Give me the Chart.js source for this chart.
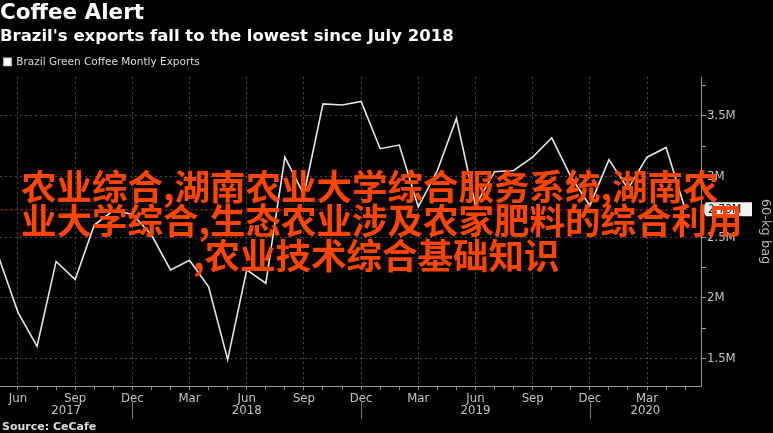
<!DOCTYPE html>
<html><head><meta charset="utf-8">
<script src="https://cdn.jsdelivr.net/npm/chart.js@4.4.1/dist/chart.umd.min.js"></script>
<style>
html,body{margin:0;padding:0;background:#000;}
#wrap{position:relative;width:773px;height:433px;overflow:hidden;background:#000;}
#c{position:absolute;left:0;top:0;}
.ov{position:absolute;font-family:'Noto Sans CJK SC';font-size:35.5px;line-height:35px;color:#ff4500;white-space:nowrap;font-weight:700;}
</style></head><body>
<div id="wrap">
<canvas id="c" width="773" height="433"></canvas>
<div class="ov" style="left:21px;top:167px">农业综合,湖南农业大学综合服务系统,湖南农</div>
<div class="ov" style="left:21px;top:201px">业大学综合,生态农业涉及农家肥料的综合利用</div>
<div class="ov" style="left:193px;top:236px">,农业技术综合基础知识</div>
</div>
<script>
// ---- data ----
const months = [
  '2017-05','2017-06','2017-07','2017-08','2017-09','2017-10','2017-11','2017-12',
  '2018-01','2018-02','2018-03','2018-04','2018-05','2018-06','2018-07','2018-08','2018-09','2018-10','2018-11','2018-12',
  '2019-01','2019-02','2019-03','2019-04','2019-05','2019-06','2019-07','2019-08','2019-09','2019-10','2019-11','2019-12',
  '2020-01','2020-02','2020-03','2020-04','2020-05'
];
const exportsM = [
  2.33, 1.88, 1.60, 2.30, 2.15, 2.60, 2.72, 2.69,
  2.52, 2.23, 2.31, 2.09, 1.49, 2.23, 2.12, 3.16, 2.85, 3.60, 3.59, 3.62,
  3.23, 3.26, 2.75, 3.05, 3.48, 2.76, 3.04, 3.05, 3.16, 3.32, 3.00, 2.76,
  3.14, 2.90, 3.16, 3.24, 2.73
];
const monthNames = ['Jan','Feb','Mar','Apr','May','Jun','Jul','Aug','Sep','Oct','Nov','Dec'];
const yearLabels = ['2017','2018','2019','2020'];
const seriesName = 'Brazil Green Coffee Montly Exports';
const titleText = 'Coffee Alert';
const subtitleText = "Brazil's exports fall to the lowest since July 2018";
const yAxisTitle = '60-kg bag';
const sourceText = 'Source: CeCafe';

// month offset relative to Jun 2017
function offsetOf(s){ const [yy,mm] = s.split('-').map(Number); return (yy-2017)*12 + (mm-6); }

const X_MIN = -0.944, X_MAX = 35.83;
const Y_MIN = 1.2725, Y_MAX = 3.8206;
const AXIS_FONT = {family:'DejaVu Sans Condensed, DejaVu Sans', size:13};
const LABEL_COLOR = '#c4c4c4';

const extras = {
  id:'extras',
  beforeDatasetsDraw(chart){
    const {ctx, chartArea:a, scales:{y}} = chart;
    const py = y.getPixelForValue(exportsM[exportsM.length-1]);
    ctx.save();
    ctx.strokeStyle='rgba(170,45,45,0.9)'; ctx.lineWidth=1; ctx.setLineDash([3,2]);
    ctx.beginPath(); ctx.moveTo(a.left,py+0.5); ctx.lineTo(a.right,py+0.5); ctx.stroke();
    ctx.restore();
  },
  afterDraw(chart){
    const {ctx, chartArea:a, scales:{x,y}} = chart;
    const last = exportsM[exportsM.length-1];
    const py = y.getPixelForValue(last);
    ctx.save();
    // last value label
    ctx.fillStyle='#f2f2f2';
    ctx.beginPath();
    ctx.moveTo(a.right+1, py);
    ctx.lineTo(a.right+5, py-7);
    ctx.lineTo(a.right+51, py-7);
    ctx.lineTo(a.right+51, py+7);
    ctx.lineTo(a.right+5, py+7);
    ctx.closePath(); ctx.fill();
    ctx.fillStyle='#111';
    ctx.font = '12px DejaVu Sans Condensed, DejaVu Sans';
    ctx.textBaseline='middle'; ctx.textAlign='left';
    ctx.fillText(last.toFixed(2)+'M', a.right+7, py+0.5);
    // year labels & separators
    ctx.font = '13px DejaVu Sans Condensed, DejaVu Sans';
    ctx.fillStyle = LABEL_COLOR; ctx.textAlign='center';
    ctx.strokeStyle = '#777'; ctx.lineWidth = 1;
    yearLabels.forEach((yr,i)=>{
      const lo = i===0 ? x.min : offsetOf((+yr-1)+'-12');
      const hi = i===yearLabels.length-1 ? x.max : offsetOf(yr+'-12');
      ctx.fillText(yr, x.getPixelForValue((lo+hi)/2), 411);
      if (i<yearLabels.length-1){
        const sx = Math.round(x.getPixelForValue(hi))+0.5;
        ctx.beginPath(); ctx.moveTo(sx,402); ctx.lineTo(sx,419); ctx.stroke();
      }
    });
    // source
    ctx.textAlign='left'; ctx.fillStyle='#dcdcdc';
    ctx.font = 'bold 11px DejaVu Sans';
    ctx.fillText(sourceText, 2, 427);
    ctx.restore();
  }
};

new Chart(document.getElementById('c'), {
  type:'line',
  data:{datasets:[{
    label: seriesName,
    data: months.map((m,i)=>({x:offsetOf(m), y:exportsM[i]})),
    borderColor:'#e6e6e6', backgroundColor:'#ffffff',
    borderWidth:1.6, pointRadius:0, tension:0
  }]},
  options:{
    responsive:false, animation:false, devicePixelRatio:1,
    layout:{padding:0},
    plugins:{
      title:{display:true, text:titleText, align:'start', color:'#ffffff',
        font:{family:'DejaVu Sans', size:21.5, weight:'bold'}, padding:{top:1,bottom:0}},
      subtitle:{display:true, text:subtitleText, align:'start', color:'#ffffff',
        font:{family:'DejaVu Sans', size:16.5, weight:'bold'}, padding:{top:0,bottom:6}},
      legend:{display:true, position:'top', align:'start',
        labels:{boxWidth:7, boxHeight:7, padding:4, color:'#dddddd',
          font:{family:'DejaVu Sans', size:10.5}}},
      tooltip:{enabled:false}
    },
    scales:{
      x:{type:'linear', min:X_MIN, max:X_MAX,
        afterFit(s){ s.height = 47; },
        ticks:{stepSize:1, includeBounds:false, autoSkip:false, maxRotation:0, color:LABEL_COLOR,
          font:AXIS_FONT, padding:1,
          callback(v){ const mi = ((Math.round(v)+5)%12+12)%12; return mi%3===2 ? monthNames[mi] : ''; }},
        grid:{color(c){ const v=Math.round(c.tick.value); return (((v%3)+3)%3===0) ? '#4a4a4a' : 'rgba(0,0,0,0)'; },
          tickColor:'#8a8a8a', tickLength:4, lineWidth:1},
        border:{color:'#9a9a9a', width:1, dash:[2,3]}
      },
      y:{position:'right', min:Y_MIN, max:Y_MAX,
        afterFit(s){ s.width = 72; },
        ticks:{stepSize:0.25, includeBounds:false, color:LABEL_COLOR, font:AXIS_FONT, padding:1,
          callback(v){ return Math.abs(v*2-Math.round(v*2))<1e-6 ? (+v.toFixed(2))+'M' : ''; }},
        grid:{color(c){ const v=c.tick.value; return Math.abs(v*2-Math.round(v*2))<1e-6 ? '#4a4a4a' : 'rgba(0,0,0,0)'; },
          tickColor:'#9a9a9a', tickLength:5, lineWidth:1},
        border:{color:'#9a9a9a', width:1, dash:[2,3]},
        title:{display:true, text:yAxisTitle, color:'#b8b8b8',
          font:{family:'DejaVu Sans', size:13}, padding:{top:0,bottom:6}}
      }
    }
  },
  plugins:[extras]
});
</script>
</body></html>
